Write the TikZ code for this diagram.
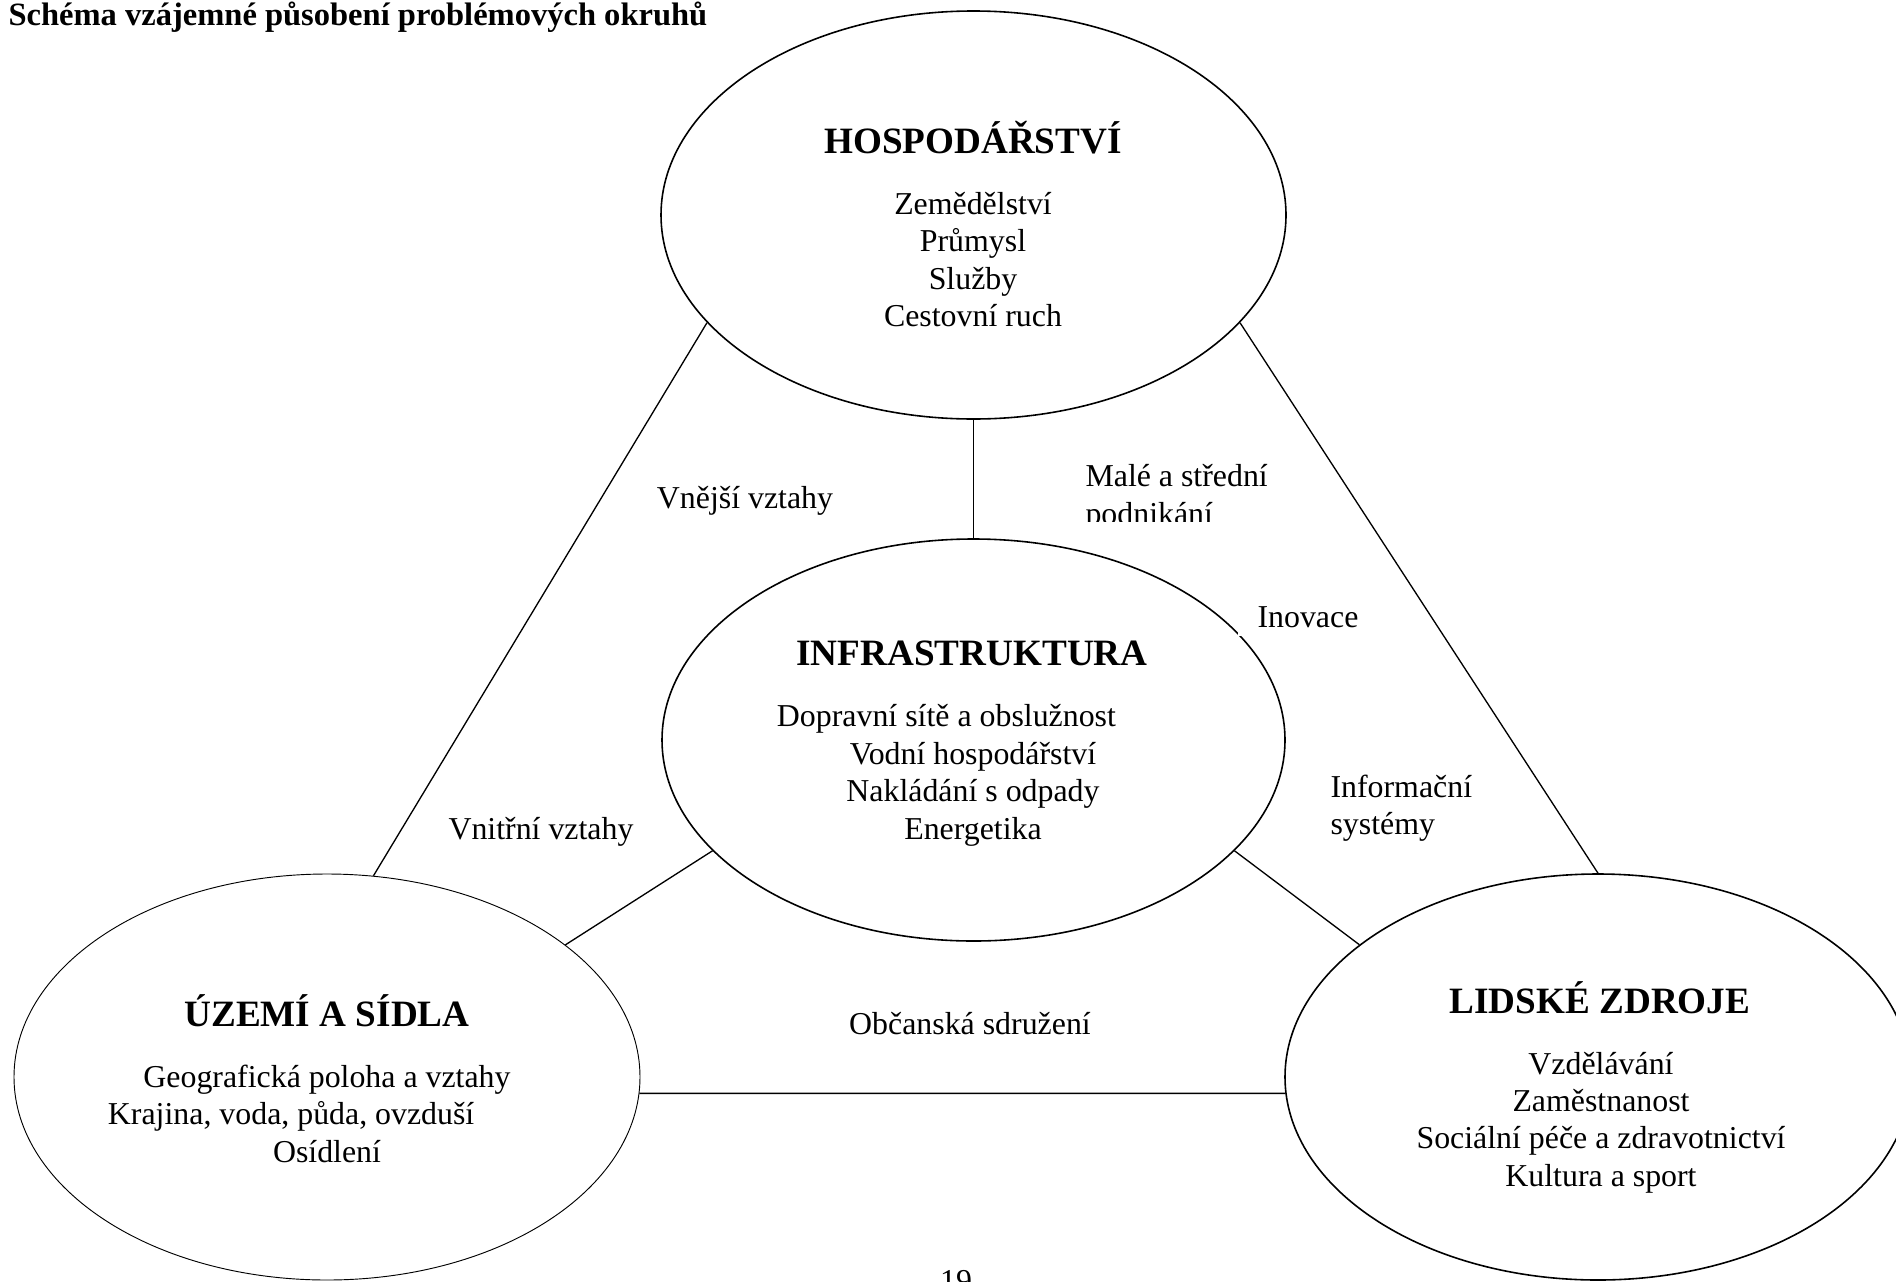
\documentclass[tikz,border=0pt]{standalone}
\usepackage{fontspec}
\setmainfont{Liberation Serif}
\usetikzlibrary{positioning, shapes.geometric}

\newcommand{\pxu}{0.3766pt}

\begin{document}
\begin{tikzpicture}[x=\pxu, y=-\pxu,
    okruh/.style={ellipse, draw, line width=0.6pt, inner sep=0pt,
      minimum width=626*\pxu, minimum height=406*\pxu},
    nadpis/.style={font=\fontsize{14}{16}\selectfont\bfseries, inner sep=0pt},
    polozky/.style={align=center, font=\fontsize{12}{14.1}\selectfont, inner sep=0pt},
    vztah/.style={align=left, font=\fontsize{12}{14.1}\selectfont, inner sep=0pt},
    spoj/.style={line width=0.5pt}]
            \clip (0,0) rectangle (1896,1282);
            \node [anchor=west, font=\fontsize{12.25}{14}\selectfont\bfseries, inner sep=0pt] (titulek) at (8,17) {Schéma vzájemné působení problémových okruhů};

            \node [okruh, minimum width=625*\pxu, minimum height=408*\pxu] (hosp) at (973.5,215) {};
            \node [okruh, minimum width=623*\pxu, minimum height=402*\pxu] (infra) at (973.5,740) {};
            \node [okruh, line width=0.35pt] (uzemi) at (327,1077) {};
            \node [okruh] (lidske) at (1598,1077) {};

            \node [nadpis] (hosp-nadpis) at (973,138) {HOSPODÁŘSTVÍ};
            \node [polozky] (hosp-obsah) at (973,259.5) {Zemědělství\\Průmysl\\Služby\\Cestovní ruch};
            \node [nadpis] (infra-nadpis) at (972,653) {INFRASTRUKTURA};
            \node [polozky] (infra-obsah) at (973,775.5) {\hbox{Dopravní sítě a obslužnost\hspace{20pt}}\\Vodní hospodářství\\Nakládání s odpady\\Energetika};
            \node [nadpis] (uzemi-nadpis) at (327,1011) {ÚZEMÍ A SÍDLA};
            \node [polozky] (uzemi-obsah) at (327,1113.5) {Geografická poloha a vztahy\\\hbox{Krajina, voda, půda, ovzduší\hspace{27pt}}\\Osídlení};
            \node [nadpis] (lidske-nadpis) at (1600,998) {LIDSKÉ ZDROJE};
            \node [polozky] (lidske-obsah) at (1601,1122.5) {Vzdělávání\\Zaměstnanost\\Sociální péče a zdravotnictví\\Kultura a sport};

            \draw [spoj] (hosp.202) -- (uzemi.77);
            \draw [spoj] (hosp.338) -- (lidske.90);
            \draw [spoj] (hosp.south) -- (infra.north);
            \draw [spoj] (infra.203) -- (uzemi.29);
            \draw [spoj] (infra.337) -- (lidske.151);
            \draw [spoj] (uzemi.357) -- (lidske.183);

            \node [vztah] (vnejsi) at (745,501) {Vnější vztahy};
            \begin{scope}
              \clip (1080,440) rectangle (1300,521);
              \node [vztah, anchor=west] (podnikani) at (1085,498) {Malé a střední\\podnikání};
            \end{scope}
            \node [vztah, fill=white, anchor=south west, inner xsep=20*\pxu, inner ysep=9*\pxu] (inovace) at (1237,637) {Inovace};
            \node [vztah, anchor=west] (informacni) at (1330,808) {Informační\\systémy};
            \node [vztah] (vnitrni) at (541,832) {Vnitřní vztahy};
            \node [vztah] (obcanska) at (970,1024) {Občanská sdružení};
            \node [vztah, anchor=north] (strana) at (956,1270) {19};
          \end{tikzpicture}
\end{document}
